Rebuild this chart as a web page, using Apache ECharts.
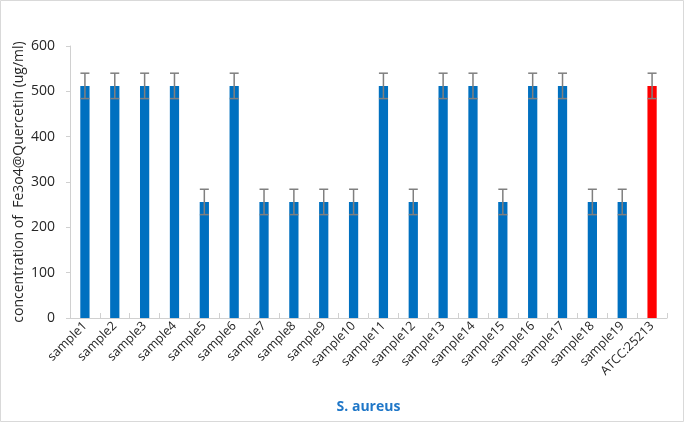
<!DOCTYPE html>
<html>
<head>
<meta charset="utf-8">
<script src="https://cdn.jsdelivr.net/npm/echarts@6/dist/echarts.min.js"></script>
<style>html,body{margin:0;padding:0;background:#fff}#c{width:685px;height:425px}</style>
</head>
<body>
<div id="c"></div>
<script>
const categories = ['sample1','sample2','sample3','sample4','sample5','sample6','sample7','sample8','sample9','sample10','sample11','sample12','sample13','sample14','sample15','sample16','sample17','sample18','sample19','ATCC:25213'];
const values = [512,512,512,512,256,512,256,256,256,256,512,256,512,512,256,512,512,256,256,512];
const errors = [28,28,28,28,28,28,28,28,28,28,28,28,28,28,28,28,28,28,28,28];
const yTicks = [0,100,200,300,400,500,600];

const chart = echarts.init(document.getElementById('c'), null, {renderer:'canvas'});
const font = "'Open Sans', 'Liberation Sans', sans-serif";
chart.setOption({
  animation: false,
  backgroundColor: '#fff',
  textStyle: {fontFamily: font},
  graphic: [{type:'rect', shape:{x:0.5,y:0.5,width:683,height:421}, style:{fill:'none', stroke:'#d9d9d9', lineWidth:1}, silent:true, z:-1}],
  grid: {left:70, right:18, top:46, bottom:107, containLabel:false, outerBoundsMode:'none'},
  xAxis: {
    type:'category', data:categories,
    name:'S. aureus', nameLocation:'middle', nameGap:82, nameMoveOverlap:false,
    nameTextStyle:{color:'#1F77C8', fontWeight:'bold', fontSize:14, fontFamily:font},
    axisLine:{lineStyle:{color:'#d0d0d0'}},
    axisTick:{show:true, inside:true, length:5, alignWithLabel:false, lineStyle:{color:'#d0d0d0'}},
    axisLabel:{interval:0, rotate:45, color:'#262626', fontSize:12.5, margin:6, fontFamily:font}
  },
  yAxis: {
    type:'value', min:yTicks[0], max:yTicks[yTicks.length-1], interval:100,
    name:'concentration of  Fe3o4@Quercetin (ug/ml)', nameLocation:'middle', nameGap:44, nameMoveOverlap:false,
    nameTextStyle:{color:'#262626', fontSize:14, fontFamily:font},
    axisLine:{show:true, lineStyle:{color:'#d0d0d0'}},
    axisTick:{show:true, length:4, lineStyle:{color:'#d0d0d0'}},
    splitLine:{show:false},
    axisLabel:{color:'#262626', fontSize:14, margin:15, fontFamily:font}
  },
  series: [
    {
      type:'bar', barWidth:'31%',
      data: values.map((v,i)=>({value:v, itemStyle:{color: i===values.length-1 ? '#FF0000' : '#0070C0'}})),
      z:2
    },
    {
      type:'custom', z:3,
      data: values.map((v,i)=>[i, v-errors[i], v+errors[i]]),
      renderItem: function(params, api){
        const x = api.value(0);
        const lo = api.coord([x, api.value(1)]);
        const hi = api.coord([x, api.value(2)]);
        const hw = 4.5;
        const st = {stroke:'#7f7f7f', lineWidth:1.5};
        return {type:'group', children:[
          {type:'line', shape:{x1:hi[0], y1:hi[1], x2:lo[0], y2:lo[1]}, style:st},
          {type:'line', shape:{x1:hi[0]-hw, y1:hi[1], x2:hi[0]+hw, y2:hi[1]}, style:st},
          {type:'line', shape:{x1:lo[0]-hw, y1:lo[1], x2:lo[0]+hw, y2:lo[1]}, style:st}
        ]};
      }
    }
  ]
});
</script>
</body>
</html>
